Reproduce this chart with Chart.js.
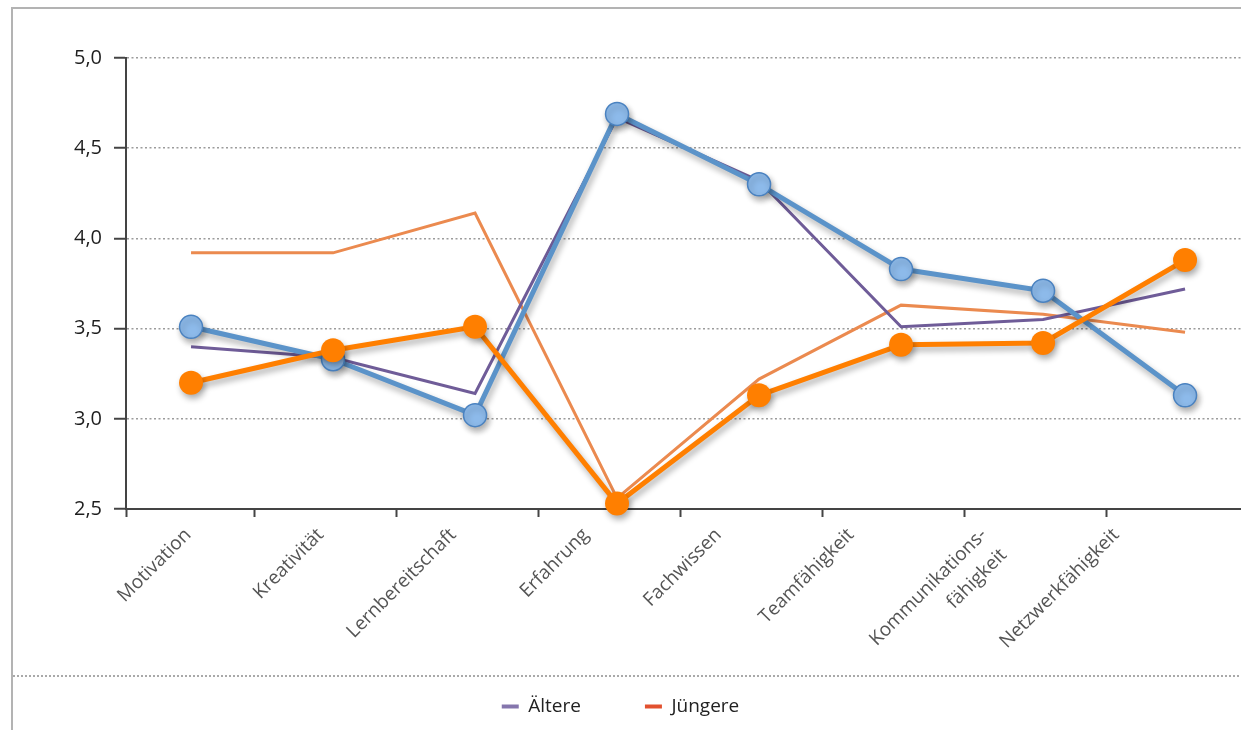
<!DOCTYPE html>
<html lang="de">
<head>
<meta charset="utf-8">
<title>Kompetenzen: Ältere und Jüngere</title>
<script src="https://cdn.jsdelivr.net/npm/chart.js@4/dist/chart.umd.min.js"></script>
<style>
  html, body { margin: 0; padding: 0; background: #fff; width: 1241px; height: 730px; overflow: hidden; }
  #rahmen-oben { position: absolute; left: 11px; top: 7px; right: 0; height: 2px; background: #b3b3b3; }
  #rahmen-links { position: absolute; left: 11px; top: 7px; bottom: 0; width: 2px; background: #b3b3b3; }
  #trenner { position: absolute; left: 13px; right: 0; top: 675px; height: 2px;
             background: repeating-linear-gradient(to right, #a9a9a9 0 2px, transparent 2px 4px); }
  canvas { position: absolute; left: 0; top: 0; }
</style>
</head>
<body>
<div id="rahmen-oben"></div>
<div id="rahmen-links"></div>
<div id="trenner"></div>
<canvas id="diagramm" width="1241" height="730"></canvas>
<script>
// Kategorien der Kompetenzbewertung
const kategorien = [
  'Motivation', 'Kreativität', 'Lernbereitschaft', 'Erfahrung',
  'Fachwissen', 'Teamfähigkeit', ['Kommunikations-', 'fähigkeit'], 'Netzwerkfähigkeit'
];

// Dünne Linien (Legende)
const aeltere  = [3.40, 3.34, 3.14, 4.67, 4.32, 3.51, 3.55, 3.72];
const juengere = [3.92, 3.92, 4.14, 2.56, 3.22, 3.63, 3.58, 3.48];

// Kräftige Linien mit Markierungen
const aeltereMarkiert  = [3.51, 3.33, 3.02, 4.69, 4.30, 3.83, 3.71, 3.13];
const juengereMarkiert = [3.20, 3.38, 3.51, 2.53, 3.13, 3.41, 3.42, 3.88];

// Werteachse
const yMin = 2.5, yMax = 5.0, ySchritt = 0.5;

// Legende
const legendeTexte  = ['Ältere', 'Jüngere'];
const legendeFarben = ['#8576ad', '#e2512f'];

const schrift = 'Open Sans';
const punkte = werte => werte.map((y, i) => ({ x: i, y }));

// Bereich der Kategorienachse (Punkte) und der Beschriftungsachse
const xMin = -0.458, xMax = 7.394;
const lMin = -0.62, lMax = 7.789;
const strichVersatz = 0.45;

// Schlagschatten für die kräftigen Linien
const schattenPlugin = {
  id: 'schatten',
  beforeDatasetDraw(chart, args) {
    const ds = chart.data.datasets[args.index];
    if (!ds.schatten) return;
    const ctx = chart.ctx;
    ctx.save();
    ctx.shadowColor = 'rgba(0,0,0,0.33)';
    ctx.shadowBlur = 6;
    ctx.shadowOffsetX = 2;
    ctx.shadowOffsetY = 4;
  },
  afterDatasetDraw(chart, args) {
    const ds = chart.data.datasets[args.index];
    if (!ds.schatten) return;
    chart.ctx.restore();
  }
};

new Chart(document.getElementById('diagramm'), {
  type: 'line',
  data: {
    datasets: [
      {
        label: 'Jüngere', data: punkte(juengereMarkiert), schatten: true,
        borderColor: '#ff7f00', borderWidth: 5, borderJoinStyle: 'round',
        pointRadius: 12, pointBackgroundColor: '#ff7f00', pointBorderColor: '#ff7f00', pointBorderWidth: 0
      },
      {
        label: 'Ältere', data: punkte(aeltereMarkiert), schatten: true,
        borderColor: '#5b93c9', borderWidth: 5, borderJoinStyle: 'round',
        pointRadius: 11.5, pointBackgroundColor: '#8dbaea', pointBorderColor: '#4a82c0', pointBorderWidth: 1.5
      },
      {
        label: 'Ältere', data: punkte(aeltere),
        borderColor: '#6f5c98', borderWidth: 3, pointRadius: 0, borderJoinStyle: 'miter'
      },
      {
        label: 'Jüngere', data: punkte(juengere),
        borderColor: '#eb8a4f', borderWidth: 3, pointRadius: 0, borderJoinStyle: 'miter'
      }
    ]
  },
  plugins: [schattenPlugin],
  options: {
    responsive: false,
    animation: false,
    events: [],
    clip: false,
    layout: { autoPadding: false, padding: { top: 58, left: 0, right: 0, bottom: 4 } },
    scales: {
      // Datenachse mit Teilstrichen zwischen den Kategorien
      x: {
        type: 'linear', position: 'bottom', weight: 0,
        min: xMin, max: xMax,
        afterBuildTicks: s => {
          s.ticks = [{ value: xMin }].concat(kategorien.slice(0, -1).map((_, i) => ({ value: i + strichVersatz })));
        },
        afterFit: s => { s.height = 0; },
        ticks: { display: false },
        grid: { drawOnChartArea: false, drawTicks: true, tickLength: 8, tickColor: '#444', tickWidth: 2 },
        border: { display: true, color: '#444', width: 2 }
      },
      // Beschriftungsachse mit gedrehten Kategorienamen (ungeschnitten unterhalb der Achse)
      xl: {
        type: 'linear', position: 'bottom', weight: 1,
        min: lMin, max: lMax,
        afterBuildTicks: s => { s.ticks = kategorien.map((_, i) => ({ value: i })); },
        afterFit: s => { s.height = 124; },
        ticks: {
          autoSkip: false, minRotation: 45, maxRotation: 45,
          mirror: true, padding: -33,
          color: '#555',
          font: { family: schrift, size: 19, lineHeight: 1.5 },
          callback: v => kategorien[Math.round(v)]
        },
        grid: { display: false, drawTicks: false },
        border: { display: false }
      },
      y: {
        min: yMin, max: yMax,
        afterFit: s => { s.width = 126; },
        ticks: {
          stepSize: ySchritt, padding: 12, color: '#1e1e1e',
          font: { family: schrift, size: 20 },
          callback: v => v.toFixed(1).replace('.', ',')
        },
        grid: {
          color: '#9c9c9c', lineWidth: 1.5,
          tickLength: 12, tickColor: '#444', tickWidth: 2, tickBorderDash: []
        },
        border: { display: true, color: '#444', width: 2, dash: [2, 2.5] }
      }
    },
    plugins: {
      tooltip: { enabled: false },
      legend: {
        position: 'bottom',
        labels: {
          usePointStyle: true, pointStyleWidth: 17, padding: 64,
          color: '#222', font: { family: schrift, size: 19 },
          generateLabels: () => legendeTexte.map((text, i) => ({
            text, fillStyle: legendeFarben[i], strokeStyle: legendeFarben[i],
            lineWidth: 4, pointStyle: 'line', hidden: false, datasetIndex: i + 2, fontColor: '#222'
          }))
        }
      }
    }
  }
});
</script>
</body>
</html>
